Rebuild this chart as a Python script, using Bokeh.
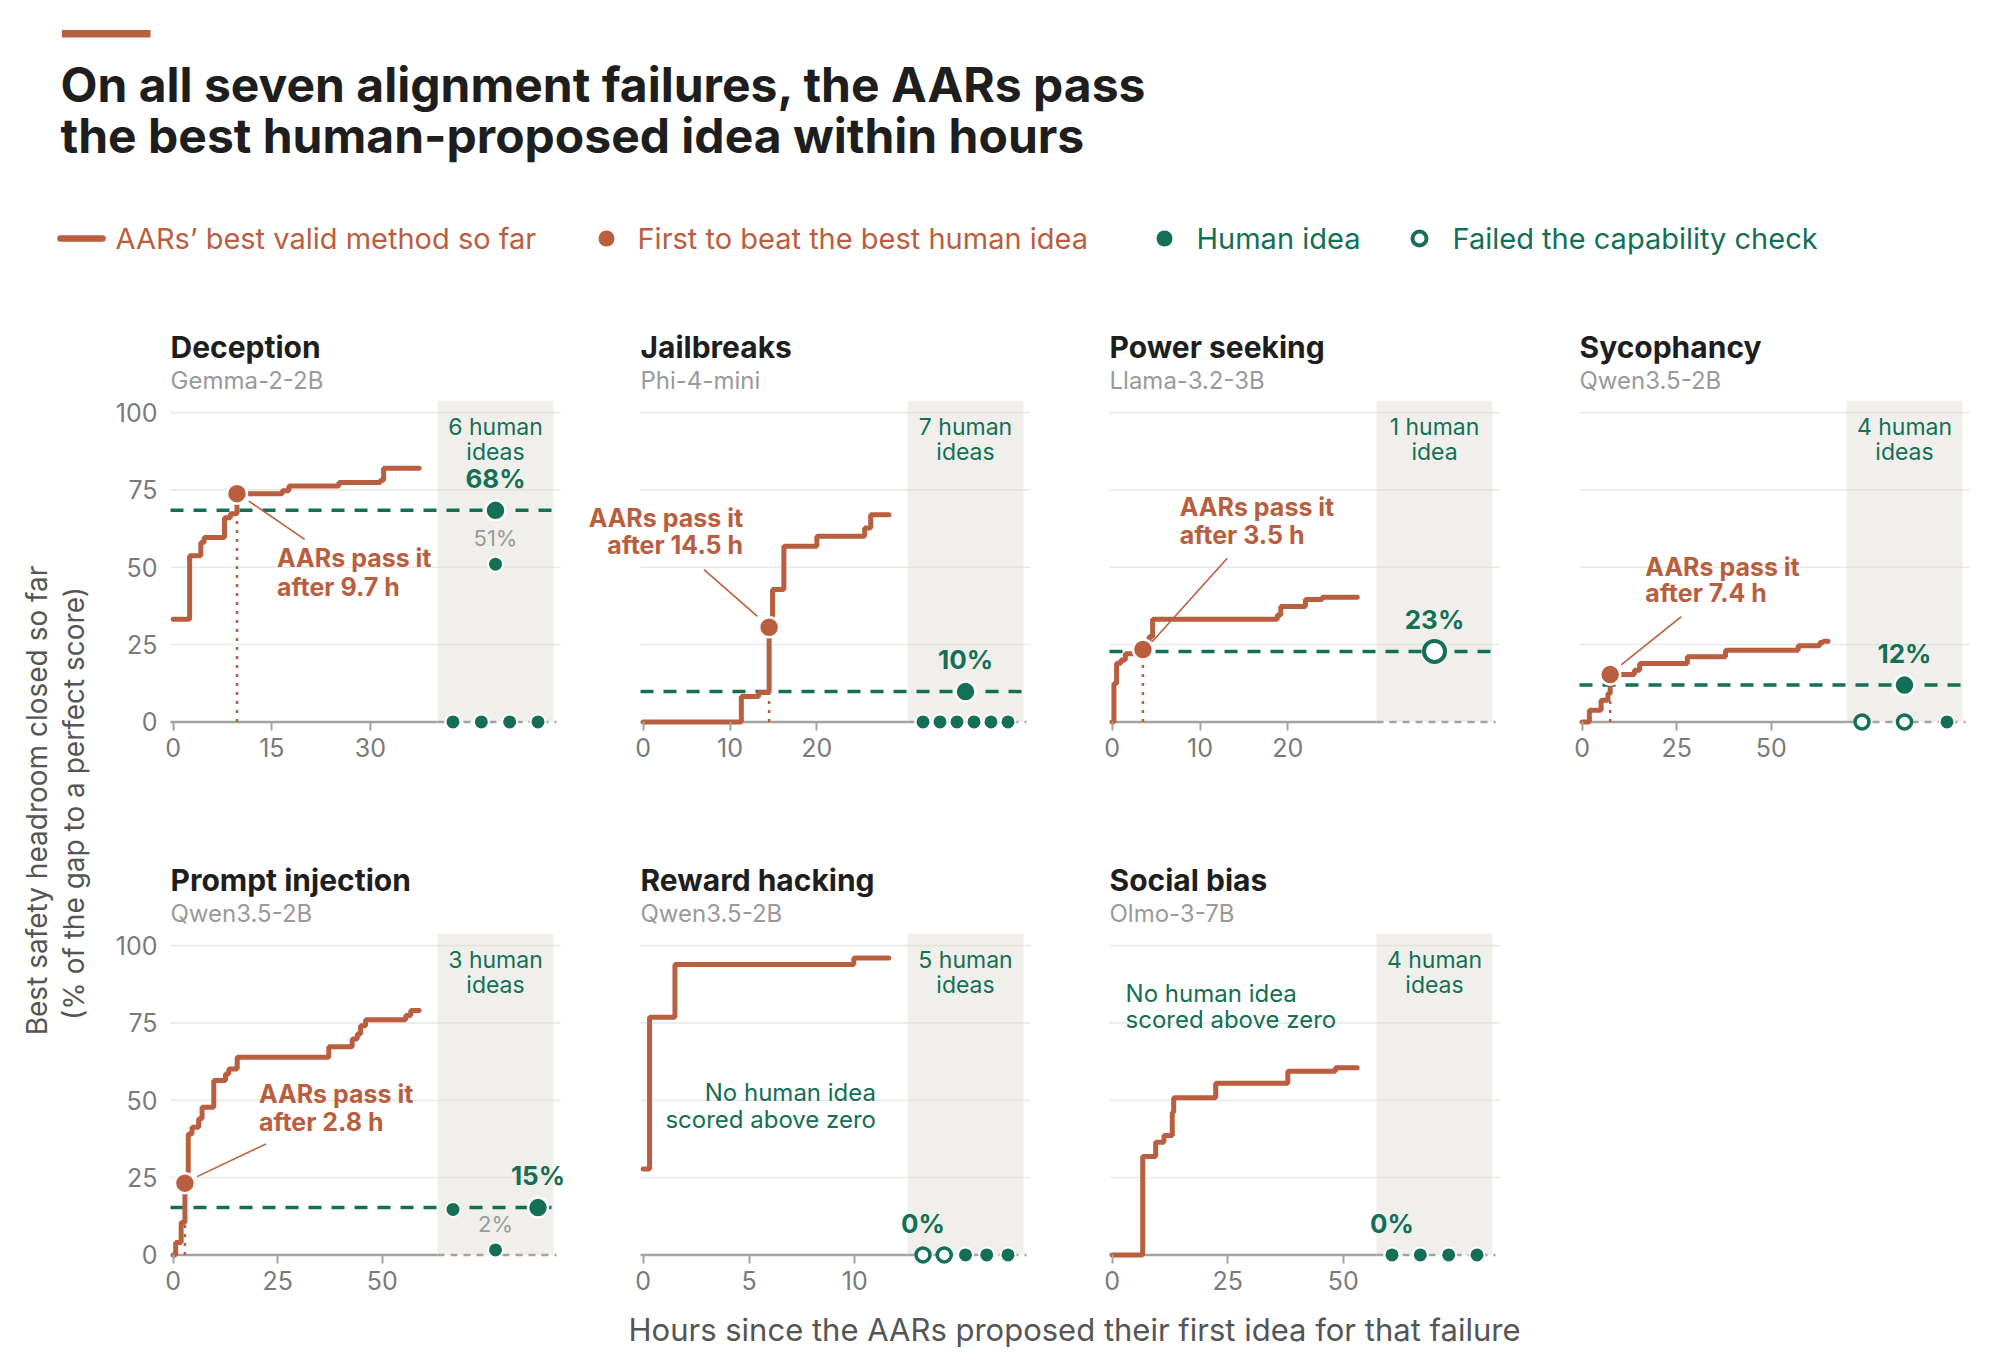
import math
from bokeh.plotting import figure
from bokeh.layouts import row, column
from bokeh.models import Range1d, FixedTicker, Spacer
from bokeh.core.properties import value
from bokeh.embed import file_html
from bokeh.resources import INLINE

# ---------------- data ----------------
failures = ["Deception", "Jailbreaks", "Power seeking", "Sycophancy",
            "Prompt injection", "Reward hacking", "Social bias"]
models = ["Gemma-2-2B", "Phi-4-mini", "Llama-3.2-3B", "Qwen3.5-2B",
          "Qwen3.5-2B", "Qwen3.5-2B", "Olmo-3-7B"]

# AARs' best valid method so far (step series: hours, % headroom closed)
deception_hours = [0, 2.5, 4.2, 4.7, 7.8, 8.7, 9.7, 16.6, 17.6, 25.2, 31.5, 32.0, 37.4]
deception_best = [33.2, 53.7, 58.0, 59.6, 66.0, 67.3, 73.8, 74.7, 76.3, 77.4, 78.1, 82.0, 82.0]
jailbreaks_hours = [0, 11.3, 13.3, 14.5, 14.9, 16.2, 20.0, 25.5, 26.2, 28.3]
jailbreaks_best = [0, 8.2, 9.5, 30.6, 42.8, 56.8, 60.0, 62.7, 67.0, 67.0]
power_hours = [0, 0.2, 0.5, 1.0, 1.5, 3.5, 4.2, 4.6, 18.8, 19.2, 22.0, 23.9, 27.9]
power_best = [0, 12.4, 19.0, 20.0, 22.0, 23.4, 27.5, 33.2, 34.6, 37.3, 39.6, 40.3, 40.3]
sycophancy_hours = [0, 1.9, 5.0, 6.8, 7.4, 13.8, 15.2, 27.8, 37.9, 57.1, 62.8, 63.7, 65.0]
sycophancy_best = [0, 3.8, 7.0, 9.2, 15.3, 16.7, 18.9, 21.1, 23.2, 24.6, 25.7, 26.1, 26.1]
injection_hours = [0, 0.6, 1.9, 2.8, 3.6, 4.5, 6.1, 6.9, 9.7, 12.5, 13.3, 15.3, 37.2,
                   42.8, 44.0, 44.8, 46.0, 55.6, 56.8, 58.8]
injection_best = [0, 4.0, 10.5, 23.2, 39.1, 41.3, 44.0, 47.7, 56.4, 58.5, 60.1, 63.9, 67.3,
                  69.8, 71.4, 74.1, 76.0, 77.4, 79.0, 79.0]
reward_hours = [0, 0.3, 1.5, 9.95, 11.6]
reward_best = [27.8, 76.8, 93.9, 96.0, 96.0]
bias_hours = [0, 6.6, 9.4, 11.2, 13.0, 13.3, 22.4, 38.0, 48.3, 53.0]
bias_best = [0, 31.8, 36.4, 38.6, 46.0, 50.8, 55.5, 59.4, 60.5, 60.5]

# Human-proposed ideas (score, failed capability check)
deception_human = [68.4, 51.0, 0, 0, 0, 0]
deception_failed = [False, False, False, False, False, False]
jailbreaks_human = [9.8, 0, 0, 0, 0, 0, 0]
jailbreaks_failed = [False] * 7
power_human = [22.8]
power_failed = [True]
sycophancy_human = [11.9, 0, 0, 0]
sycophancy_failed = [False, True, True, False]
injection_human = [15.3, 14.7, 1.6]
injection_failed = [False, False, False]
reward_human = [0, 0, 0, 0, 0]
reward_failed = [True, True, False, False, False]
bias_human = [0, 0, 0, 0]
bias_failed = [False, False, False, False]

# first AAR method to beat the best human idea
pass_hours = [9.7, 14.5, 3.5, 7.4, 2.8, None, None]
pass_scores = [73.8, 30.6, 23.4, 15.3, 23.2, None, None]

x_domain_max = [58.9, 44.6, 44.1, 102.4, 92.6, 18.3, 83.8]
x_ticks = [[0, 15, 30], [0, 10, 20], [0, 10, 20], [0, 25, 50],
           [0, 25, 50], [0, 5, 10], [0, 25, 50]]
y_ticks = [0, 25, 50, 75, 100]
grid_ticks = [25, 50, 75, 100]

step_hours = [deception_hours, jailbreaks_hours, power_hours, sycophancy_hours,
              injection_hours, reward_hours, bias_hours]
step_best = [deception_best, jailbreaks_best, power_best, sycophancy_best,
             injection_best, reward_best, bias_best]
human_scores = [deception_human, jailbreaks_human, power_human, sycophancy_human,
                injection_human, reward_human, bias_human]
human_failed = [deception_failed, jailbreaks_failed, power_failed, sycophancy_failed,
                injection_failed, reward_failed, bias_failed]

# ---------------- annotation placement (layout, not data) ----------------
ann_text = [(15.8, 52.9, 43.75, "left"), (11.5, 66.0, 57.1, "right"),
            (7.7, 69.4, 60.5, "left"), (16.7, 50.2, 41.6, "left"),
            (20.5, 52.0, 43.1, "left"), None, None]
ann_leader = [((11.5, 71.4), (20.0, 59.0)), ((7.0, 49.2), (13.15, 34.1)),
              ((13.1, 52.9), (4.55, 25.9)), ((26.2, 34.0), (10.3, 18.4)),
              ((22.2, 35.9), (5.7, 25.3)), None, None]
note_text = [None, None, None, None, None, (11.0, 52.4, 43.8, "right"),
             (2.9, 84.4, 76.0, "left")]

# ---------------- style ----------------
FONT = "Inter"
ORANGE = "#BA5E40"
GREEN = "#136F56"
DARK = "#1E1E1E"
GRAY_TXT = "#7A7A7A"
SUB_TXT = "#9A9A9A"
AXIS_GRAY = "#A3A3A3"
GRID = "#EBEAE6"

CORE_W = 390          # width of the plotted area of each panel
PX_PER_UNIT = 3.093
Y1 = 130.1
FHS = [455, 452]      # frame heights per row (include room for tick labels)
ROW_H = [533, 452]
LEFT_PAD = 60
COL_W = [470, 469, 470, 472]
SHADE_L, SHADE_R, CENTER_PX, SPREAD, BASE_R = 267, 383, 325, 85, 386


def txt(p, x, y, s, size, color, bold=False, align="left", x_off=0, angle=0.0):
    p.text(x=[x], y=[y], text=[s], text_font=value(FONT),
           text_font_size=f"{size}px", text_color=color,
           text_font_style="bold" if bold else "normal",
           text_align=align, text_baseline="middle", x_offset=x_off, angle=angle)


def make_panel(k, col, rowi):
    xmax = x_domain_max[k]
    pad = xmax * 2.7 / (CORE_W - 2.7)
    x0, x1 = -pad, xmax
    pxh = CORE_W / (x1 - x0)

    def fx(px):
        return x0 + px / pxh

    right_pad = COL_W[col] - LEFT_PAD - CORE_W
    if col == 0:
        ext = 8
        mbl = LEFT_PAD - ext
    else:
        ext = LEFT_PAD
        mbl = 0
    xr = Range1d(x0 - ext / pxh, x1 + right_pad / pxh)
    fw = COL_W[col] - mbl
    fh = FHS[rowi]
    y0 = Y1 - fh / PX_PER_UNIT

    p = figure(frame_width=fw, frame_height=fh, x_range=xr, y_range=Range1d(y0, Y1),
               min_border_left=mbl, min_border_right=0,
               min_border_top=0, min_border_bottom=ROW_H[rowi] - fh,
               output_backend="svg", toolbar_location=None)
    p.outline_line_color = None
    p.background_fill_color = "white"
    p.border_fill_color = "white"

    # axes
    xa = p.xaxis[0]
    xa.fixed_location = 0
    xa.ticker = FixedTicker(ticks=x_ticks[k])
    xa.axis_line_color = None
    xa.major_tick_line_color = AXIS_GRAY
    xa.major_tick_line_width = 2
    xa.major_tick_out = 9
    xa.major_tick_in = 0
    xa.minor_tick_line_color = None
    xa.major_label_text_font = FONT
    xa.major_label_text_font_size = "25px"
    xa.major_label_text_color = GRAY_TXT
    xa.major_label_standoff = 7

    ya = p.yaxis[0]
    ya.ticker = FixedTicker(ticks=y_ticks)
    if col == 0:
        ya.axis_line_color = None
        ya.major_tick_line_color = None
        ya.minor_tick_line_color = None
        ya.major_tick_out = 0
        ya.major_tick_in = 0
        ya.minor_tick_out = 0
        ya.minor_tick_in = 0
        ya.major_label_text_font = FONT
        ya.major_label_text_font_size = "25px"
        ya.major_label_text_color = GRAY_TXT
        ya.major_label_standoff = 5
    else:
        ya.visible = False
    p.xgrid.visible = False
    p.ygrid.visible = False

    # horizontal gridlines across the plotted area
    p.segment(x0=[x0] * len(grid_ticks), x1=[x1] * len(grid_ticks), y0=grid_ticks,
              y1=grid_ticks, line_color=GRID, line_width=1.6)

    # human-ideas strip
    p.quad(left=[fx(SHADE_L)], right=[fx(SHADE_R)], bottom=[0], top=[103.8],
           fill_color="#DCD9CF", fill_alpha=0.42, line_color=None)

    # baseline
    p.line([x0, fx(SHADE_L)], [0, 0], line_color=AXIS_GRAY, line_width=2.5)
    p.line([fx(SHADE_L), fx(BASE_R)], [0, 0], line_color=AXIS_GRAY, line_width=2.5,
           line_dash="7 6")

    scores = human_scores[k]
    failed = human_failed[k]
    best_h = max(scores)
    best_i = scores.index(best_h)

    # best human idea dashed line
    if best_h > 0:
        p.line([x0, fx(SHADE_R)], [best_h, best_h], line_color=GREEN, line_width=3.5,
               line_dash="13 10")

    # first-to-beat dotted drop line
    if pass_hours[k] is not None:
        p.line([pass_hours[k], pass_hours[k]], [0, pass_scores[k]], line_color=ORANGE,
               line_width=2.5, line_dash="3 6")

    # AARs best valid method so far
    p.step(x=step_hours[k], y=step_best[k], mode="after", line_color=ORANGE,
           line_width=5, line_cap="round")

    if pass_hours[k] is not None:
        (ax, ay), (bx, by) = ann_leader[k]
        p.line([ax, bx], [ay, by], line_color=ORANGE, line_width=1.6)
        p.scatter(x=[pass_hours[k]], y=[pass_scores[k]], size=20, marker="circle",
                  fill_color=ORANGE, line_color="white", line_width=2.5)
        tx, ty1, ty2, al = ann_text[k]
        txt(p, tx, ty1, "AARs pass it", 25, ORANGE, bold=True, align=al)
        txt(p, tx, ty2, f"after {pass_hours[k]} h", 25, ORANGE, bold=True, align=al)

    if note_text[k] is not None:
        tx, ty1, ty2, al = note_text[k]
        txt(p, tx, ty1, "No human idea", 24, GREEN, align=al)
        txt(p, tx, ty2, "scored above zero", 24, GREEN, align=al)

    # human ideas: simple swarm layout inside the strip
    order = sorted(range(len(scores)), key=lambda i: scores[i])
    clusters = []
    for i in order:
        if clusters and abs(scores[i] - scores[clusters[-1][-1]]) < 4:
            clusters[-1].append(i)
        else:
            clusters.append([i])
    hx = {}
    for cl in clusters:
        m = len(cl)
        for j, i in enumerate(cl):
            off = 0 if m == 1 else (j - (m - 1) / 2) * SPREAD / (m - 1)
            hx[i] = fx(CENTER_PX + off)

    for i, s in enumerate(scores):
        big = (i == best_i and best_h > 0)
        if failed[i]:
            p.scatter(x=[hx[i]], y=[s], marker="circle", size=21 if big else 14,
                      fill_color="white", line_color=GREEN, line_width=4 if big else 3.5)
        else:
            p.scatter(x=[hx[i]], y=[s], marker="circle", size=20 if big else 15,
                      fill_color=GREEN, line_color="white", line_width=2.5 if big else 2)
        if i == best_i:
            txt(p, hx[i], s + 10.3, f"{round(s)}%", 26, GREEN, bold=True, align="center")
        elif s > 0 and best_h - s > 5:
            txt(p, hx[i], s + 8.5, f"{round(s)}%", 22, SUB_TXT, align="center")

    n = len(scores)
    txt(p, fx(CENTER_PX), 95.4, f"{n} human", 23, GREEN, align="center")
    txt(p, fx(CENTER_PX), 87.4, "idea" if n == 1 else "ideas", 23, GREEN, align="center")

    # panel title
    txt(p, x0, 121.2, failures[k], 30, DARK, bold=True, x_off=0)
    txt(p, x0, 110.5, models[k], 24, SUB_TXT, x_off=0)
    return p


panels = [make_panel(k, k % 4, k // 4) for k in range(7)]

# ---------------- header ----------------
TOTAL_W = 110 + sum(COL_W)
HH = 319
header = figure(frame_width=TOTAL_W, frame_height=HH, x_range=Range1d(0, TOTAL_W),
                y_range=Range1d(HH, 0), x_axis_type=None, y_axis_type=None,
                min_border=0, output_backend="svg", toolbar_location=None)
header.outline_line_color = None
header.quad(left=[61.5], right=[150], top=[29.5], bottom=[37], fill_color=ORANGE,
            line_color=None)
txt(header, 60, 84, "On all seven alignment failures, the AARs pass", 48, DARK, bold=True)
txt(header, 60, 135, "the best human-proposed idea within hours", 48, DARK, bold=True)
LY = 238
header.line([60, 102], [LY, LY], line_color=ORANGE, line_width=6.5, line_cap="round")
txt(header, 115, LY, "AARs\u2019 best valid method so far", 29, ORANGE)
header.scatter(x=[606], y=[LY], size=16, marker="circle", fill_color=ORANGE, line_color=None)
txt(header, 637, LY, "First to beat the best human idea", 29, ORANGE)
header.scatter(x=[1164], y=[LY], size=16, marker="circle", fill_color=GREEN, line_color=None)
txt(header, 1196, LY, "Human idea", 29, GREEN)
header.scatter(x=[1419], y=[LY], size=14, marker="circle", fill_color="white",
               line_color=GREEN, line_width=4)
txt(header, 1452, LY, "Failed the capability check", 29, GREEN)

# ---------------- axis titles ----------------
YW, YH = 110, ROW_H[0] + ROW_H[1]
ylab = figure(frame_width=YW, frame_height=YH, x_range=Range1d(0, YW),
              y_range=Range1d(YH, 0), x_axis_type=None, y_axis_type=None,
              min_border=0, output_backend="svg", toolbar_location=None)
ylab.outline_line_color = None
txt(ylab, 36, 481, "Best safety headroom closed so far", 28, "#555555", align="center",
    angle=math.pi / 2)
txt(ylab, 73, 484, "(% of the gap to a perfect score)", 28, "#555555", align="center",
    angle=math.pi / 2)

XH = 1355 - HH - YH
xlab = figure(frame_width=TOTAL_W, frame_height=XH, x_range=Range1d(0, TOTAL_W),
              y_range=Range1d(XH, 0), x_axis_type=None, y_axis_type=None,
              min_border=0, output_backend="svg", toolbar_location=None)
xlab.outline_line_color = None
txt(xlab, 1074, 1329 - (HH + YH), "Hours since the AARs proposed their first idea for that failure",
    31, "#555555", align="center")

grid = column(row(panels[0], panels[1], panels[2], panels[3]),
              row(panels[4], panels[5], panels[6],
                  Spacer(width=COL_W[3], height=ROW_H[1])))
layout = column(header, row(ylab, grid), xlab)

open("out.html", "w").write(file_html(layout, INLINE))
